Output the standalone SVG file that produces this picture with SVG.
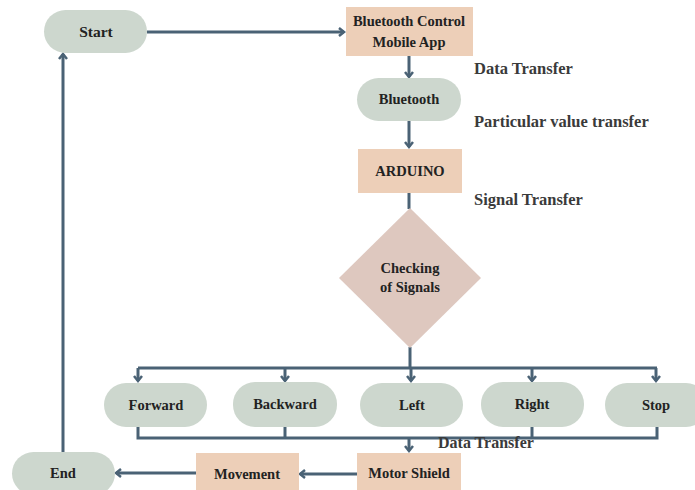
<svg xmlns="http://www.w3.org/2000/svg" width="695" height="490" viewBox="0 0 695 490">
<style>
.pill{fill:#cdd7ce}
.box{fill:#edcfb8}
.dia{fill:#dec8bf}
.t{font-family:"Liberation Serif",serif;font-weight:bold;font-size:14.5px;fill:#222;text-anchor:middle}
.lbl{font-family:"Liberation Serif",serif;font-weight:bold;font-size:16.5px;fill:#3a3a3a}
.c{fill:none;stroke:#4a6275;stroke-width:3}
</style>
<defs>
<marker id="ah" markerWidth="10" markerHeight="10" refX="7" refY="5" orient="auto" markerUnits="userSpaceOnUse">
<path d="M2,1 L7,5 L2,9" fill="none" stroke="#4a6275" stroke-width="2.5"/>
</marker>
</defs>
<rect width="695" height="490" fill="#fff"/>
<g id="connectors">
<path class="c" d="M147,32 H344" marker-end="url(#ah)"/>
<path class="c" d="M409,56 V77" marker-end="url(#ah)"/>
<path class="c" d="M409,121 V147" marker-end="url(#ah)"/>
<path class="c" d="M409,193 V209"/>
<path class="c" d="M410,347 V368"/>
<path class="c" d="M138,368 H657"/>
<path class="c" d="M138,368 V381" marker-end="url(#ah)"/>
<path class="c" d="M285,368 V381" marker-end="url(#ah)"/>
<path class="c" d="M411,368 V381" marker-end="url(#ah)"/>
<path class="c" d="M532,368 V381" marker-end="url(#ah)"/>
<path class="c" d="M656,368 V381" marker-end="url(#ah)"/>
<path class="c" d="M138,427 V438 H657 V427"/>
<path class="c" d="M285,427 V438"/>
<path class="c" d="M532,427 V438"/>
<path class="c" d="M409,438 V451" marker-end="url(#ah)"/>
<path class="c" d="M357,474 H300" marker-end="url(#ah)"/>
<path class="c" d="M196,473 H116" marker-end="url(#ah)"/>
<path class="c" d="M63,452 V54" marker-end="url(#ah)"/>
</g>
<g id="start"><rect class="pill" x="44" y="10" width="103" height="43" rx="21.5"/><text class="t" x="96" y="37" style="font-size:15.5px">Start</text></g>
<g id="app"><rect class="box" x="346" y="7" width="127" height="49"/><text class="t" x="409" y="26">Bluetooth Control</text><text class="t" x="409" y="47">Mobile App</text></g>
<g id="bluetooth"><rect class="pill" x="357" y="78" width="104" height="43" rx="21.5"/><text class="t" x="409" y="104">Bluetooth</text></g>
<g id="arduino"><rect class="box" x="358" y="149" width="104" height="44"/><text class="t" x="410" y="176">ARDUINO</text></g>
<g id="check"><polygon class="dia" points="410,208 481,278 410,348 339,278"/><text class="t" x="410" y="273">Checking</text><text class="t" x="410" y="292">of Signals</text></g>
<g id="forward"><rect class="pill" x="104" y="383" width="103" height="44" rx="22"/><text class="t" x="156" y="410">Forward</text></g>
<g id="backward"><rect class="pill" x="233" y="382" width="104" height="45" rx="22"/><text class="t" x="285" y="409">Backward</text></g>
<g id="left"><rect class="pill" x="360" y="383" width="103" height="44" rx="22"/><text class="t" x="412" y="410">Left</text></g>
<g id="right"><rect class="pill" x="481" y="382" width="103" height="45" rx="22"/><text class="t" x="532" y="409">Right</text></g>
<g id="stop"><rect class="pill" x="605" y="383" width="103" height="44" rx="22"/><text class="t" x="656" y="410">Stop</text></g>
<g id="motor"><rect class="box" x="357" y="453" width="104" height="40"/><text class="t" x="409" y="478">Motor Shield</text></g>
<g id="movement"><rect class="box" x="196" y="453" width="103" height="40"/><text class="t" x="247" y="479">Movement</text></g>
<g id="end"><rect class="pill" x="12" y="452" width="103" height="43" rx="21.5"/><text class="t" x="63" y="478">End</text></g>
<g id="labels">
<text class="lbl" x="474" y="74">Data Transfer</text>
<text class="lbl" x="474" y="127">Particular value transfer</text>
<text class="lbl" x="474" y="205">Signal Transfer</text>
<text class="lbl" x="438" y="448" style="font-size:16px">Data Transfer</text>
</g>
</svg>
